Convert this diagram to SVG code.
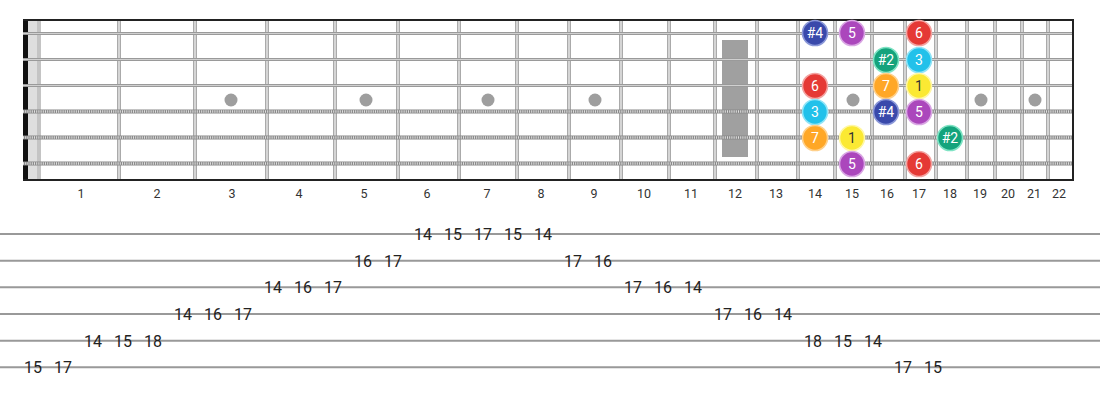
<svg xmlns="http://www.w3.org/2000/svg" width="1100" height="400" viewBox="0 0 1100 400">
<style>
.fret{stroke:#aaa;stroke-width:4}
.fretc{stroke:#f2f2f2;stroke-width:1.2}
.plain{stroke:#9a9a9a;stroke-width:3}
.plainc{stroke:#d0d0d0;stroke-width:1}
.wound{stroke:#8a8a8a;stroke-width:4}
.woundc{stroke:#e0e0e0;stroke-width:2.4;stroke-dasharray:1 1.2}
.dot{fill:#9e9e9e}
.fn{font-family:Roboto,"Liberation Sans",sans-serif;font-size:12.5px;fill:#333;text-anchor:middle}
.tab{stroke:#999;stroke-width:2}
.tn{font-family:Roboto,"Liberation Sans",sans-serif;font-size:16px;fill:#222;text-anchor:middle}
.nl{font-family:Roboto,"Liberation Sans",sans-serif;font-size:14px;fill:#fff;text-anchor:middle}
.s4{fill:#3949ab;stroke:#8a97d8;stroke-width:1.6}
.s5{fill:#ab47bc;stroke:#d9a6e3;stroke-width:1.6}
.s6{fill:#e53935;stroke:#f3a3a1;stroke-width:1.6}
.s2{fill:#14a37c;stroke:#7fe3c4;stroke-width:1.6}
.s3{fill:#22c1ea;stroke:#8fe4f7;stroke-width:1.6}
.s7{fill:#ffa726;stroke:#ffd08a;stroke-width:1.6}
.s1{fill:#fbe933;stroke:#fff7a6;stroke-width:1.6}
</style>
<rect width="1100" height="400" fill="#fff"/>
<g id="fretboard">
  <rect x="28" y="20" width="10" height="160" fill="#dedede"/>
  <rect x="37" y="20" width="4" height="160" fill="#c4c4c4"/>
  <rect x="23" y="20" width="5" height="161" fill="#111"/>
  <rect x="722" y="40" width="26" height="117" fill="#a0a0a0"/>
  <g id="frets">
    <line class="fret" x1="119" y1="20" x2="119" y2="180"/><line class="fretc" x1="119" y1="20" x2="119" y2="180"/>
    <line class="fret" x1="195" y1="20" x2="195" y2="180"/><line class="fretc" x1="195" y1="20" x2="195" y2="180"/>
    <line class="fret" x1="267" y1="20" x2="267" y2="180"/><line class="fretc" x1="267" y1="20" x2="267" y2="180"/>
    <line class="fret" x1="335" y1="20" x2="335" y2="180"/><line class="fretc" x1="335" y1="20" x2="335" y2="180"/>
    <line class="fret" x1="398" y1="20" x2="398" y2="180"/><line class="fretc" x1="398" y1="20" x2="398" y2="180"/>
    <line class="fret" x1="459" y1="20" x2="459" y2="180"/><line class="fretc" x1="459" y1="20" x2="459" y2="180"/>
    <line class="fret" x1="517" y1="20" x2="517" y2="180"/><line class="fretc" x1="517" y1="20" x2="517" y2="180"/>
    <line class="fret" x1="569" y1="20" x2="569" y2="180"/><line class="fretc" x1="569" y1="20" x2="569" y2="180"/>
    <line class="fret" x1="621" y1="20" x2="621" y2="180"/><line class="fretc" x1="621" y1="20" x2="621" y2="180"/>
    <line class="fret" x1="669" y1="20" x2="669" y2="180"/><line class="fretc" x1="669" y1="20" x2="669" y2="180"/>
    <line class="fret" x1="715" y1="20" x2="715" y2="180"/><line class="fretc" x1="715" y1="20" x2="715" y2="180"/>
    <line class="fret" x1="757" y1="20" x2="757" y2="180"/><line class="fretc" x1="757" y1="20" x2="757" y2="180"/>
    <line class="fret" x1="798" y1="20" x2="798" y2="180"/><line class="fretc" x1="798" y1="20" x2="798" y2="180"/>
    <line class="fret" x1="835" y1="20" x2="835" y2="180"/><line class="fretc" x1="835" y1="20" x2="835" y2="180"/>
    <line class="fret" x1="872" y1="20" x2="872" y2="180"/><line class="fretc" x1="872" y1="20" x2="872" y2="180"/>
    <line class="fret" x1="905" y1="20" x2="905" y2="180"/><line class="fretc" x1="905" y1="20" x2="905" y2="180"/>
    <line class="fret" x1="936" y1="20" x2="936" y2="180"/><line class="fretc" x1="936" y1="20" x2="936" y2="180"/>
    <line class="fret" x1="967" y1="20" x2="967" y2="180"/><line class="fretc" x1="967" y1="20" x2="967" y2="180"/>
    <line class="fret" x1="995" y1="20" x2="995" y2="180"/><line class="fretc" x1="995" y1="20" x2="995" y2="180"/>
    <line class="fret" x1="1022" y1="20" x2="1022" y2="180"/><line class="fretc" x1="1022" y1="20" x2="1022" y2="180"/>
    <line class="fret" x1="1048" y1="20" x2="1048" y2="180"/><line class="fretc" x1="1048" y1="20" x2="1048" y2="180"/>
  </g>
  <g id="markers">
    <circle class="dot" cx="231" cy="100" r="6.5"/>
    <circle class="dot" cx="366" cy="100" r="6.5"/>
    <circle class="dot" cx="488" cy="100" r="6.5"/>
    <circle class="dot" cx="595" cy="100" r="6.5"/>
    <circle class="dot" cx="853" cy="100" r="6.5"/>
    <circle class="dot" cx="981" cy="100" r="6.5"/>
    <circle class="dot" cx="1035" cy="100" r="6.5"/>
  </g>
  <g id="strings">
    <line class="plain" x1="23" y1="33.5" x2="1073" y2="33.5"/><line class="plainc" x1="23" y1="33.5" x2="1073" y2="33.5"/>
    <line class="plain" x1="23" y1="59.5" x2="1073" y2="59.5"/><line class="plainc" x1="23" y1="59.5" x2="1073" y2="59.5"/>
    <line class="plain" x1="23" y1="85.5" x2="1073" y2="85.5"/><line class="plainc" x1="23" y1="85.5" x2="1073" y2="85.5"/>
    <line class="wound" x1="23" y1="111.5" x2="1073" y2="111.5"/><line class="woundc" x1="23" y1="111.5" x2="1073" y2="111.5"/>
    <line class="wound" x1="23" y1="137.5" x2="1073" y2="137.5"/><line class="woundc" x1="23" y1="137.5" x2="1073" y2="137.5"/>
    <line class="wound" x1="23" y1="163.5" x2="1073" y2="163.5"/><line class="woundc" x1="23" y1="163.5" x2="1073" y2="163.5"/>
  </g>
  <line x1="23" y1="20" x2="1074" y2="20" stroke="#222" stroke-width="2"/>
  <line x1="23" y1="180" x2="1074" y2="180" stroke="#222" stroke-width="2"/>
  <line x1="1073" y1="19" x2="1073" y2="181" stroke="#222" stroke-width="2"/>
</g>
<g id="fret-numbers">
  <text class="fn" x="81" y="198">1</text>
  <text class="fn" x="157" y="198">2</text>
  <text class="fn" x="232" y="198">3</text>
  <text class="fn" x="299" y="198">4</text>
  <text class="fn" x="364" y="198">5</text>
  <text class="fn" x="427" y="198">6</text>
  <text class="fn" x="487" y="198">7</text>
  <text class="fn" x="541" y="198">8</text>
  <text class="fn" x="594" y="198">9</text>
  <text class="fn" x="644" y="198">10</text>
  <text class="fn" x="691" y="198">11</text>
  <text class="fn" x="735" y="198">12</text>
  <text class="fn" x="776" y="198">13</text>
  <text class="fn" x="815" y="198">14</text>
  <text class="fn" x="852" y="198">15</text>
  <text class="fn" x="887" y="198">16</text>
  <text class="fn" x="919" y="198">17</text>
  <text class="fn" x="950" y="198">18</text>
  <text class="fn" x="980" y="198">19</text>
  <text class="fn" x="1008" y="198">20</text>
  <text class="fn" x="1034" y="198">21</text>
  <text class="fn" x="1059" y="198">22</text>
</g>
<g id="notes">
  <g id="n1-14"><circle class="s4" cx="815" cy="33" r="12.5"/><text class="nl" x="815" y="38">#4</text></g>
  <g id="n1-15"><circle class="s5" cx="852" cy="33" r="12.5"/><text class="nl" x="852" y="38">5</text></g>
  <g id="n1-17"><circle class="s6" cx="919" cy="33" r="12.5"/><text class="nl" x="919" y="38">6</text></g>
  <g id="n2-16"><circle class="s2" cx="886" cy="60" r="12.5"/><text class="nl" x="886" y="65">#2</text></g>
  <g id="n2-17"><circle class="s3" cx="919" cy="60" r="12.5"/><text class="nl" x="919" y="65">3</text></g>
  <g id="n3-14"><circle class="s6" cx="815" cy="86" r="12.5"/><text class="nl" x="815" y="91">6</text></g>
  <g id="n3-16"><circle class="s7" cx="886" cy="86" r="12.5"/><text class="nl" x="886" y="91">7</text></g>
  <g id="n3-17"><circle class="s1" cx="919" cy="86" r="12.5"/><text class="nl" x="919" y="91" style="fill:#333">1</text></g>
  <g id="n4-14"><circle class="s3" cx="815" cy="112" r="12.5"/><text class="nl" x="815" y="117">3</text></g>
  <g id="n4-16"><circle class="s4" cx="886" cy="112" r="12.5"/><text class="nl" x="886" y="117">#4</text></g>
  <g id="n4-17"><circle class="s5" cx="919" cy="112" r="12.5"/><text class="nl" x="919" y="117">5</text></g>
  <g id="n5-14"><circle class="s7" cx="815" cy="138" r="12.5"/><text class="nl" x="815" y="143">7</text></g>
  <g id="n5-15"><circle class="s1" cx="852" cy="138" r="12.5"/><text class="nl" x="852" y="143" style="fill:#333">1</text></g>
  <g id="n5-18"><circle class="s2" cx="950" cy="138" r="12.5"/><text class="nl" x="950" y="143">#2</text></g>
  <g id="n6-15"><circle class="s5" cx="852" cy="164" r="12.5"/><text class="nl" x="852" y="169">5</text></g>
  <g id="n6-17"><circle class="s6" cx="919" cy="164" r="12.5"/><text class="nl" x="919" y="169">6</text></g>
</g>
<g id="tab-lines">
  <line class="tab" x1="0" y1="234" x2="1100" y2="234"/>
  <line class="tab" x1="0" y1="260.7" x2="1100" y2="260.7"/>
  <line class="tab" x1="0" y1="287.3" x2="1100" y2="287.3"/>
  <line class="tab" x1="0" y1="314" x2="1100" y2="314"/>
  <line class="tab" x1="0" y1="340.7" x2="1100" y2="340.7"/>
  <line class="tab" x1="0" y1="367.3" x2="1100" y2="367.3"/>
</g>
<g id="tab-numbers">
  <text class="tn" x="33" y="373">15</text>
  <text class="tn" x="63" y="373">17</text>
  <text class="tn" x="93" y="346.5">14</text>
  <text class="tn" x="123" y="346.5">15</text>
  <text class="tn" x="153" y="346.5">18</text>
  <text class="tn" x="183" y="320">14</text>
  <text class="tn" x="213" y="320">16</text>
  <text class="tn" x="243" y="320">17</text>
  <text class="tn" x="273" y="293">14</text>
  <text class="tn" x="303" y="293">16</text>
  <text class="tn" x="333" y="293">17</text>
  <text class="tn" x="363" y="266.5">16</text>
  <text class="tn" x="393" y="266.5">17</text>
  <text class="tn" x="423" y="240">14</text>
  <text class="tn" x="453" y="240">15</text>
  <text class="tn" x="483" y="240">17</text>
  <text class="tn" x="513" y="240">15</text>
  <text class="tn" x="543" y="240">14</text>
  <text class="tn" x="573" y="266.5">17</text>
  <text class="tn" x="603" y="266.5">16</text>
  <text class="tn" x="633" y="293">17</text>
  <text class="tn" x="663" y="293">16</text>
  <text class="tn" x="693" y="293">14</text>
  <text class="tn" x="723" y="320">17</text>
  <text class="tn" x="753" y="320">16</text>
  <text class="tn" x="783" y="320">14</text>
  <text class="tn" x="813" y="346.5">18</text>
  <text class="tn" x="843" y="346.5">15</text>
  <text class="tn" x="873" y="346.5">14</text>
  <text class="tn" x="903" y="373">17</text>
  <text class="tn" x="933" y="373">15</text>
</g>
</svg>
